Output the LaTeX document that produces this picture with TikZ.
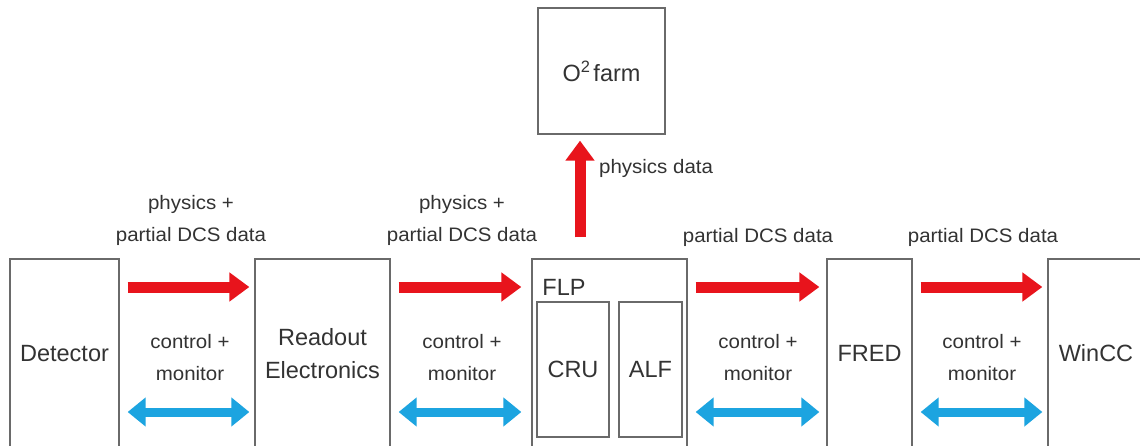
\documentclass[tikz,border=0pt]{standalone}
\usepackage{fontspec}
\setmainfont{Liberation Sans}
\newfontfamily\lblfont[FakeStretch=1.05]{Liberation Sans}
\usetikzlibrary{arrows.meta}
\definecolor{boxline}{HTML}{6A6A6A}
\definecolor{txt}{HTML}{333333}
\definecolor{arrred}{HTML}{E8141C}
\definecolor{arrblue}{HTML}{1CA4E0}
\tikzset{
  box/.style={draw=boxline, line width=1.3pt, inner sep=0pt, text=txt,
    font=\fontsize{23.5}{33}\selectfont, align=center},
  lbl/.style={text=txt, font=\lblfont\fontsize{19.5}{32}\selectfont, inner sep=0pt, align=center},
  redarrow/.style={draw=arrred, line width=11pt, -{Triangle[length=20pt,width=28pt]}},
  bluearrow/.style={draw=arrblue, line width=9pt, {Triangle[length=18pt,width=28pt]}-{Triangle[length=18pt,width=28pt]}},
}
\begin{document}
\begin{tikzpicture}[x=1pt,y=1pt]
\useasboundingbox (0,0) rectangle (1140,445);
\fill[white] (0,0) rectangle (1140,445);
% boxes
\node[box, minimum width=109pt, minimum height=189pt] (det) at (64.5,91.5) {Detector};
\node[box, minimum width=135pt, minimum height=189pt] (ro) at (322.5,91.5) {Readout\\Electronics};
\node[box, minimum width=155pt, minimum height=189pt] (flp) at (609.5,91.5) {};
\node[box, minimum width=85pt, minimum height=189pt] (fred) at (869.5,91.5) {FRED};
\node[box, minimum width=96pt, minimum height=189pt] (wincc) at (1096,91.5) {WinCC};
\node[box, minimum width=72pt, minimum height=135pt] (cru) at (573,75.5) {CRU};
\node[box, minimum width=63pt, minimum height=135pt] (alf) at (650.5,75.5) {ALF};
\node[box, minimum width=127pt, minimum height=126pt] (o2) at (601.5,374) {O\textsuperscript{2}\hspace{3pt}farm};
\node[text=txt, font=\fontsize{23.5}{28}\selectfont, inner sep=0pt] (flplbl) at (564,158) {FLP};
% red arrows
\draw[redarrow, shorten <=8pt, shorten >=5pt] (det.east |- 0,158) -- (ro.west |- 0,158);
\draw[redarrow, shorten <=8pt, shorten >=10pt] (ro.east |- 0,158) -- (flp.west |- 0,158);
\draw[redarrow, shorten <=8pt, shorten >=7pt] (flp.east |- 0,158) -- (fred.west |- 0,158);
\draw[redarrow, shorten <=8pt, shorten >=5pt] (fred.east |- 0,158) -- (wincc.west |- 0,158);
\draw[redarrow, shorten <=21pt, shorten >=6pt] (flp.north -| 580,0) -- (o2.south -| 580,0);
% blue arrows
\draw[bluearrow, shorten <=8pt, shorten >=5pt] (det.east |- 0,33) -- (ro.west |- 0,33);
\draw[bluearrow, shorten <=8pt, shorten >=10pt] (ro.east |- 0,33) -- (flp.west |- 0,33);
\draw[bluearrow, shorten <=8pt, shorten >=7pt] (flp.east |- 0,33) -- (fred.west |- 0,33);
\draw[bluearrow, shorten <=8pt, shorten >=5pt] (fred.east |- 0,33) -- (wincc.west |- 0,33);
% labels
\node[lbl] (l1) at (191,225) {physics +\\partial DCS data};
\node[lbl] (l2) at (462,225) {physics +\\partial DCS data};
\node[lbl] (l3) at (758,208) {partial DCS data};
\node[lbl] (l4) at (983,208) {partial DCS data};
\node[lbl, anchor=west] (l5) at (599,277) {physics data};
\node[lbl] (c1) at (190,87.5) {control +\\monitor};
\node[lbl] (c2) at (462,87.5) {control +\\monitor};
\node[lbl] (c3) at (758,87.5) {control +\\monitor};
\node[lbl] (c4) at (982,87.5) {control +\\monitor};
\end{tikzpicture}
\end{document}
